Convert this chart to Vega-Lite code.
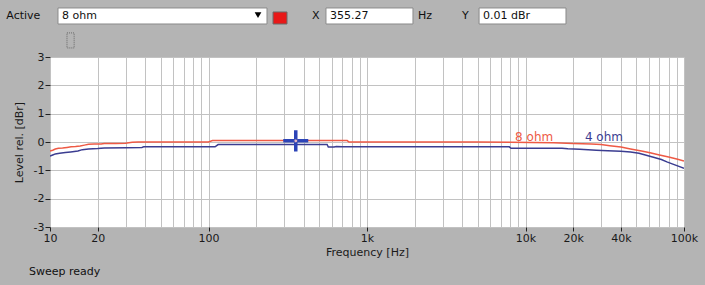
{
  "$schema": "https://vega.github.io/schema/vega-lite/v6.json",
  "autosize": "none",
  "width": 634,
  "height": 170,
  "padding": {"left": 50, "top": 57, "right": 21, "bottom": 58},
  "background": "#b4b4b4",
  "view": {"fill": "#ffffff", "stroke": null},
  "config": {"font": "DejaVu Sans"},
  "datasets": {
    "curves": [
      {"freq": 10, "level": -0.32, "load": "8 ohm"},
      {"freq": 10.4, "level": -0.29, "load": "8 ohm"},
      {"freq": 10.8, "level": -0.25, "load": "8 ohm"},
      {"freq": 11.3, "level": -0.22, "load": "8 ohm"},
      {"freq": 12, "level": -0.21, "load": "8 ohm"},
      {"freq": 12.8, "level": -0.19, "load": "8 ohm"},
      {"freq": 13.6, "level": -0.17, "load": "8 ohm"},
      {"freq": 14.5, "level": -0.16, "load": "8 ohm"},
      {"freq": 15.5, "level": -0.14, "load": "8 ohm"},
      {"freq": 16.5, "level": -0.11, "load": "8 ohm"},
      {"freq": 17.5, "level": -0.08, "load": "8 ohm"},
      {"freq": 19, "level": -0.07, "load": "8 ohm"},
      {"freq": 21, "level": -0.07, "load": "8 ohm"},
      {"freq": 22, "level": -0.05, "load": "8 ohm"},
      {"freq": 26, "level": -0.05, "load": "8 ohm"},
      {"freq": 30, "level": -0.04, "load": "8 ohm"},
      {"freq": 33, "level": -0.01, "load": "8 ohm"},
      {"freq": 36, "level": 0, "load": "8 ohm"},
      {"freq": 100, "level": 0, "load": "8 ohm"},
      {"freq": 106, "level": 0.05, "load": "8 ohm"},
      {"freq": 300, "level": 0.05, "load": "8 ohm"},
      {"freq": 600, "level": 0.05, "load": "8 ohm"},
      {"freq": 750, "level": 0.05, "load": "8 ohm"},
      {"freq": 770, "level": 0, "load": "8 ohm"},
      {"freq": 2000, "level": 0, "load": "8 ohm"},
      {"freq": 5000, "level": 0, "load": "8 ohm"},
      {"freq": 8000, "level": -0.01, "load": "8 ohm"},
      {"freq": 15000, "level": -0.03, "load": "8 ohm"},
      {"freq": 20000, "level": -0.05, "load": "8 ohm"},
      {"freq": 26000, "level": -0.07, "load": "8 ohm"},
      {"freq": 30000, "level": -0.09, "load": "8 ohm"},
      {"freq": 34000, "level": -0.13, "load": "8 ohm"},
      {"freq": 40000, "level": -0.18, "load": "8 ohm"},
      {"freq": 46000, "level": -0.25, "load": "8 ohm"},
      {"freq": 55000, "level": -0.33, "load": "8 ohm"},
      {"freq": 62000, "level": -0.39, "load": "8 ohm"},
      {"freq": 70000, "level": -0.46, "load": "8 ohm"},
      {"freq": 80000, "level": -0.53, "load": "8 ohm"},
      {"freq": 90000, "level": -0.6, "load": "8 ohm"},
      {"freq": 100000, "level": -0.67, "load": "8 ohm"},
      {"freq": 10, "level": -0.5, "load": "4 ohm"},
      {"freq": 10.4, "level": -0.46, "load": "4 ohm"},
      {"freq": 10.8, "level": -0.42, "load": "4 ohm"},
      {"freq": 11.5, "level": -0.4, "load": "4 ohm"},
      {"freq": 12.5, "level": -0.37, "load": "4 ohm"},
      {"freq": 13.5, "level": -0.35, "load": "4 ohm"},
      {"freq": 15, "level": -0.32, "load": "4 ohm"},
      {"freq": 16, "level": -0.27, "load": "4 ohm"},
      {"freq": 17.5, "level": -0.25, "load": "4 ohm"},
      {"freq": 20, "level": -0.23, "load": "4 ohm"},
      {"freq": 22, "level": -0.21, "load": "4 ohm"},
      {"freq": 30, "level": -0.2, "load": "4 ohm"},
      {"freq": 38, "level": -0.19, "load": "4 ohm"},
      {"freq": 39, "level": -0.17, "load": "4 ohm"},
      {"freq": 110, "level": -0.17, "load": "4 ohm"},
      {"freq": 115, "level": -0.09, "load": "4 ohm"},
      {"freq": 300, "level": -0.09, "load": "4 ohm"},
      {"freq": 560, "level": -0.09, "load": "4 ohm"},
      {"freq": 570, "level": -0.18, "load": "4 ohm"},
      {"freq": 620, "level": -0.18, "load": "4 ohm"},
      {"freq": 640, "level": -0.16, "load": "4 ohm"},
      {"freq": 700, "level": -0.17, "load": "4 ohm"},
      {"freq": 2000, "level": -0.17, "load": "4 ohm"},
      {"freq": 7900, "level": -0.17, "load": "4 ohm"},
      {"freq": 8100, "level": -0.22, "load": "4 ohm"},
      {"freq": 17000, "level": -0.22, "load": "4 ohm"},
      {"freq": 18500, "level": -0.24, "load": "4 ohm"},
      {"freq": 22000, "level": -0.26, "load": "4 ohm"},
      {"freq": 28000, "level": -0.29, "load": "4 ohm"},
      {"freq": 33000, "level": -0.31, "load": "4 ohm"},
      {"freq": 40000, "level": -0.33, "load": "4 ohm"},
      {"freq": 46000, "level": -0.35, "load": "4 ohm"},
      {"freq": 52000, "level": -0.4, "load": "4 ohm"},
      {"freq": 57000, "level": -0.46, "load": "4 ohm"},
      {"freq": 65000, "level": -0.55, "load": "4 ohm"},
      {"freq": 72000, "level": -0.62, "load": "4 ohm"},
      {"freq": 78000, "level": -0.7, "load": "4 ohm"},
      {"freq": 85000, "level": -0.78, "load": "4 ohm"},
      {"freq": 92000, "level": -0.85, "load": "4 ohm"},
      {"freq": 100000, "level": -0.93, "load": "4 ohm"}
    ],
    "one": [{}]
  },
  "layer": [
    {
      "data": {"name": "curves"},
      "mark": {"type": "line", "strokeWidth": 1.5, "clip": true},
      "encoding": {
        "x": {
          "field": "freq", "type": "quantitative",
          "scale": {"type": "log", "domain": [10, 100000], "nice": false},
          "axis": {
            "values": [10,20,30,40,50,60,70,80,90,100,200,300,400,500,600,700,800,900,1000,2000,3000,4000,5000,6000,7000,8000,9000,10000,20000,30000,40000,50000,60000,70000,80000,90000,100000],
            "tickCount": 100,
            "labelExpr": "datum.value == 10 || datum.value == 20 || datum.value == 100 ? '' + datum.value : datum.value == 1000 ? '1k' : datum.value == 10000 ? '10k' : datum.value == 20000 ? '20k' : datum.value == 40000 ? '40k' : datum.value == 100000 ? '100k' : ''",
            "title": "Frequency [Hz]",
            "grid": true, "gridColor": "#c2c2c2", "gridWidth": 1,
            "domain": false,
            "tickSize": 4, "tickColor": "#202020",
            "tickOpacity": {"condition": {"test": "indexof([10,20,100,1000,10000,20000,40000,100000], datum.value) >= 0", "value": 1}, "value": 0},
            "labelPadding": 1, "labelFont": "DejaVu Sans", "labelFontSize": 11, "labelColor": "#1a1a1a",
            "labelOverlap": false, "labelBound": false, "labelFlush": false,
            "titleFont": "DejaVu Sans", "titleFontSize": 11, "titleFontWeight": "normal", "titleColor": "#1a1a1a", "titlePadding": 3
          }
        },
        "y": {
          "field": "level", "type": "quantitative",
          "scale": {"domain": [-3, 3], "nice": false, "zero": false},
          "axis": {
            "values": [-3, -2, -1, 0, 1, 2, 3],
            "tickCount": 20,
            "labelExpr": "'' + datum.value",
            "title": "Level rel. [dBr]",
            "grid": true, "gridColor": "#c2c2c2", "gridWidth": 1,
            "domain": false,
            "tickSize": 5, "tickColor": "#202020",
            "labelPadding": 1, "labelFont": "DejaVu Sans", "labelFontSize": 11, "labelColor": "#1a1a1a",
            "labelOverlap": false, "labelBound": false, "labelFlush": false,
            "titleFont": "DejaVu Sans", "titleFontSize": 11, "titleFontWeight": "normal", "titleColor": "#1a1a1a", "titlePadding": 9
          }
        },
        "color": {
          "field": "load", "type": "nominal",
          "scale": {"domain": ["8 ohm", "4 ohm"], "range": ["#ee5a45", "#3b3d91"]},
          "legend": null
        }
      }
    },
    {
      "data": {"name": "one"},
      "mark": {"type": "text", "text": "8 ohm", "align": "left", "baseline": "alphabetic", "fontSize": 12, "color": "#ee5a45"},
      "encoding": {"x": {"datum": 8600, "type": "quantitative"}, "y": {"datum": 0.03, "type": "quantitative"}}
    },
    {
      "data": {"name": "one"},
      "mark": {"type": "text", "text": "4 ohm", "align": "left", "baseline": "alphabetic", "fontSize": 12, "color": "#3b3d91"},
      "encoding": {"x": {"datum": 23700, "type": "quantitative"}, "y": {"datum": 0.03, "type": "quantitative"}}
    },
    {
      "data": {"name": "one"},
      "mark": {"type": "point", "shape": "M-1,0H1M0,-0.85V0.85", "size": 625, "filled": false, "stroke": "#2c44b8", "strokeWidth": 3.5, "opacity": 1},
      "encoding": {"x": {"datum": 355.27, "type": "quantitative"}, "y": {"datum": 0.04, "type": "quantitative"}}
    },
    {
      "data": {"name": "one"},
      "mark": {"type": "point", "shape": "circle", "size": 14, "filled": true, "fill": "#e8b8c4", "stroke": "#4050b0", "strokeWidth": 1, "opacity": 1},
      "encoding": {"x": {"datum": 355.27, "type": "quantitative"}, "y": {"datum": 0.04, "type": "quantitative"}}
    },
    {
      "data": {"name": "one"},
      "mark": {"type": "rect", "fill": "#ffffff", "stroke": "#8a8a8a", "strokeWidth": 1, "clip": false},
      "encoding": {"x": {"datum": 11.23, "type": "quantitative"}, "x2": {"datum": 233.9}, "y": {"datum": 4.73, "type": "quantitative"}, "y2": {"datum": 4.165}}
    },
    {
      "data": {"name": "one"},
      "mark": {"type": "rect", "fill": "#ffffff", "stroke": "#8a8a8a", "strokeWidth": 1, "clip": false},
      "encoding": {"x": {"datum": 551, "type": "quantitative"}, "x2": {"datum": 1950}, "y": {"datum": 4.73, "type": "quantitative"}, "y2": {"datum": 4.165}}
    },
    {
      "data": {"name": "one"},
      "mark": {"type": "rect", "fill": "#ffffff", "stroke": "#8a8a8a", "strokeWidth": 1, "clip": false},
      "encoding": {"x": {"datum": 5094, "type": "quantitative"}, "x2": {"datum": 18010}, "y": {"datum": 4.73, "type": "quantitative"}, "y2": {"datum": 4.165}}
    },
    {
      "data": {"name": "one"},
      "mark": {"type": "rect", "fill": "#e81818", "stroke": "#6a6a6a", "strokeWidth": 1, "clip": false},
      "encoding": {"x": {"datum": 255.4, "type": "quantitative"}, "x2": {"datum": 312.8}, "y": {"datum": 4.589, "type": "quantitative"}, "y2": {"datum": 4.165}}
    },
    {
      "data": {"name": "one"},
      "mark": {"type": "rect", "fill": null, "stroke": "#6a6a6a", "strokeWidth": 1, "strokeDash": [1, 1], "clip": false},
      "encoding": {"x": {"datum": 12.8, "type": "quantitative"}, "x2": {"datum": 14.2}, "y": {"datum": 3.85, "type": "quantitative"}, "y2": {"datum": 3.32}}
    },
    {
      "data": {"name": "one"},
      "mark": {"type": "point", "shape": "triangle-down", "size": 45, "filled": true, "color": "#000000", "opacity": 1, "clip": false},
      "encoding": {"x": {"datum": 205.3, "type": "quantitative"}, "y": {"datum": 4.48, "type": "quantitative"}}
    },
    {
      "data": {"values": [
        {"label": "Active", "f": 5.3, "lvl": 4.45},
        {"label": "8 ohm", "f": 11.9, "lvl": 4.45},
        {"label": "X", "f": 450, "lvl": 4.45},
        {"label": "355.27", "f": 585, "lvl": 4.45},
        {"label": "Hz", "f": 2099, "lvl": 4.45},
        {"label": "Y", "f": 3973, "lvl": 4.45},
        {"label": "0.01 dBr", "f": 5397, "lvl": 4.45},
        {"label": "Sweep ready", "f": 7.37, "lvl": -4.59}
      ]},
      "mark": {"type": "text", "align": "left", "baseline": "middle", "fontSize": 11, "color": "#101010", "clip": false},
      "encoding": {
        "x": {"field": "f", "type": "quantitative"},
        "y": {"field": "lvl", "type": "quantitative"},
        "text": {"field": "label"}
      }
    }
  ]
}
